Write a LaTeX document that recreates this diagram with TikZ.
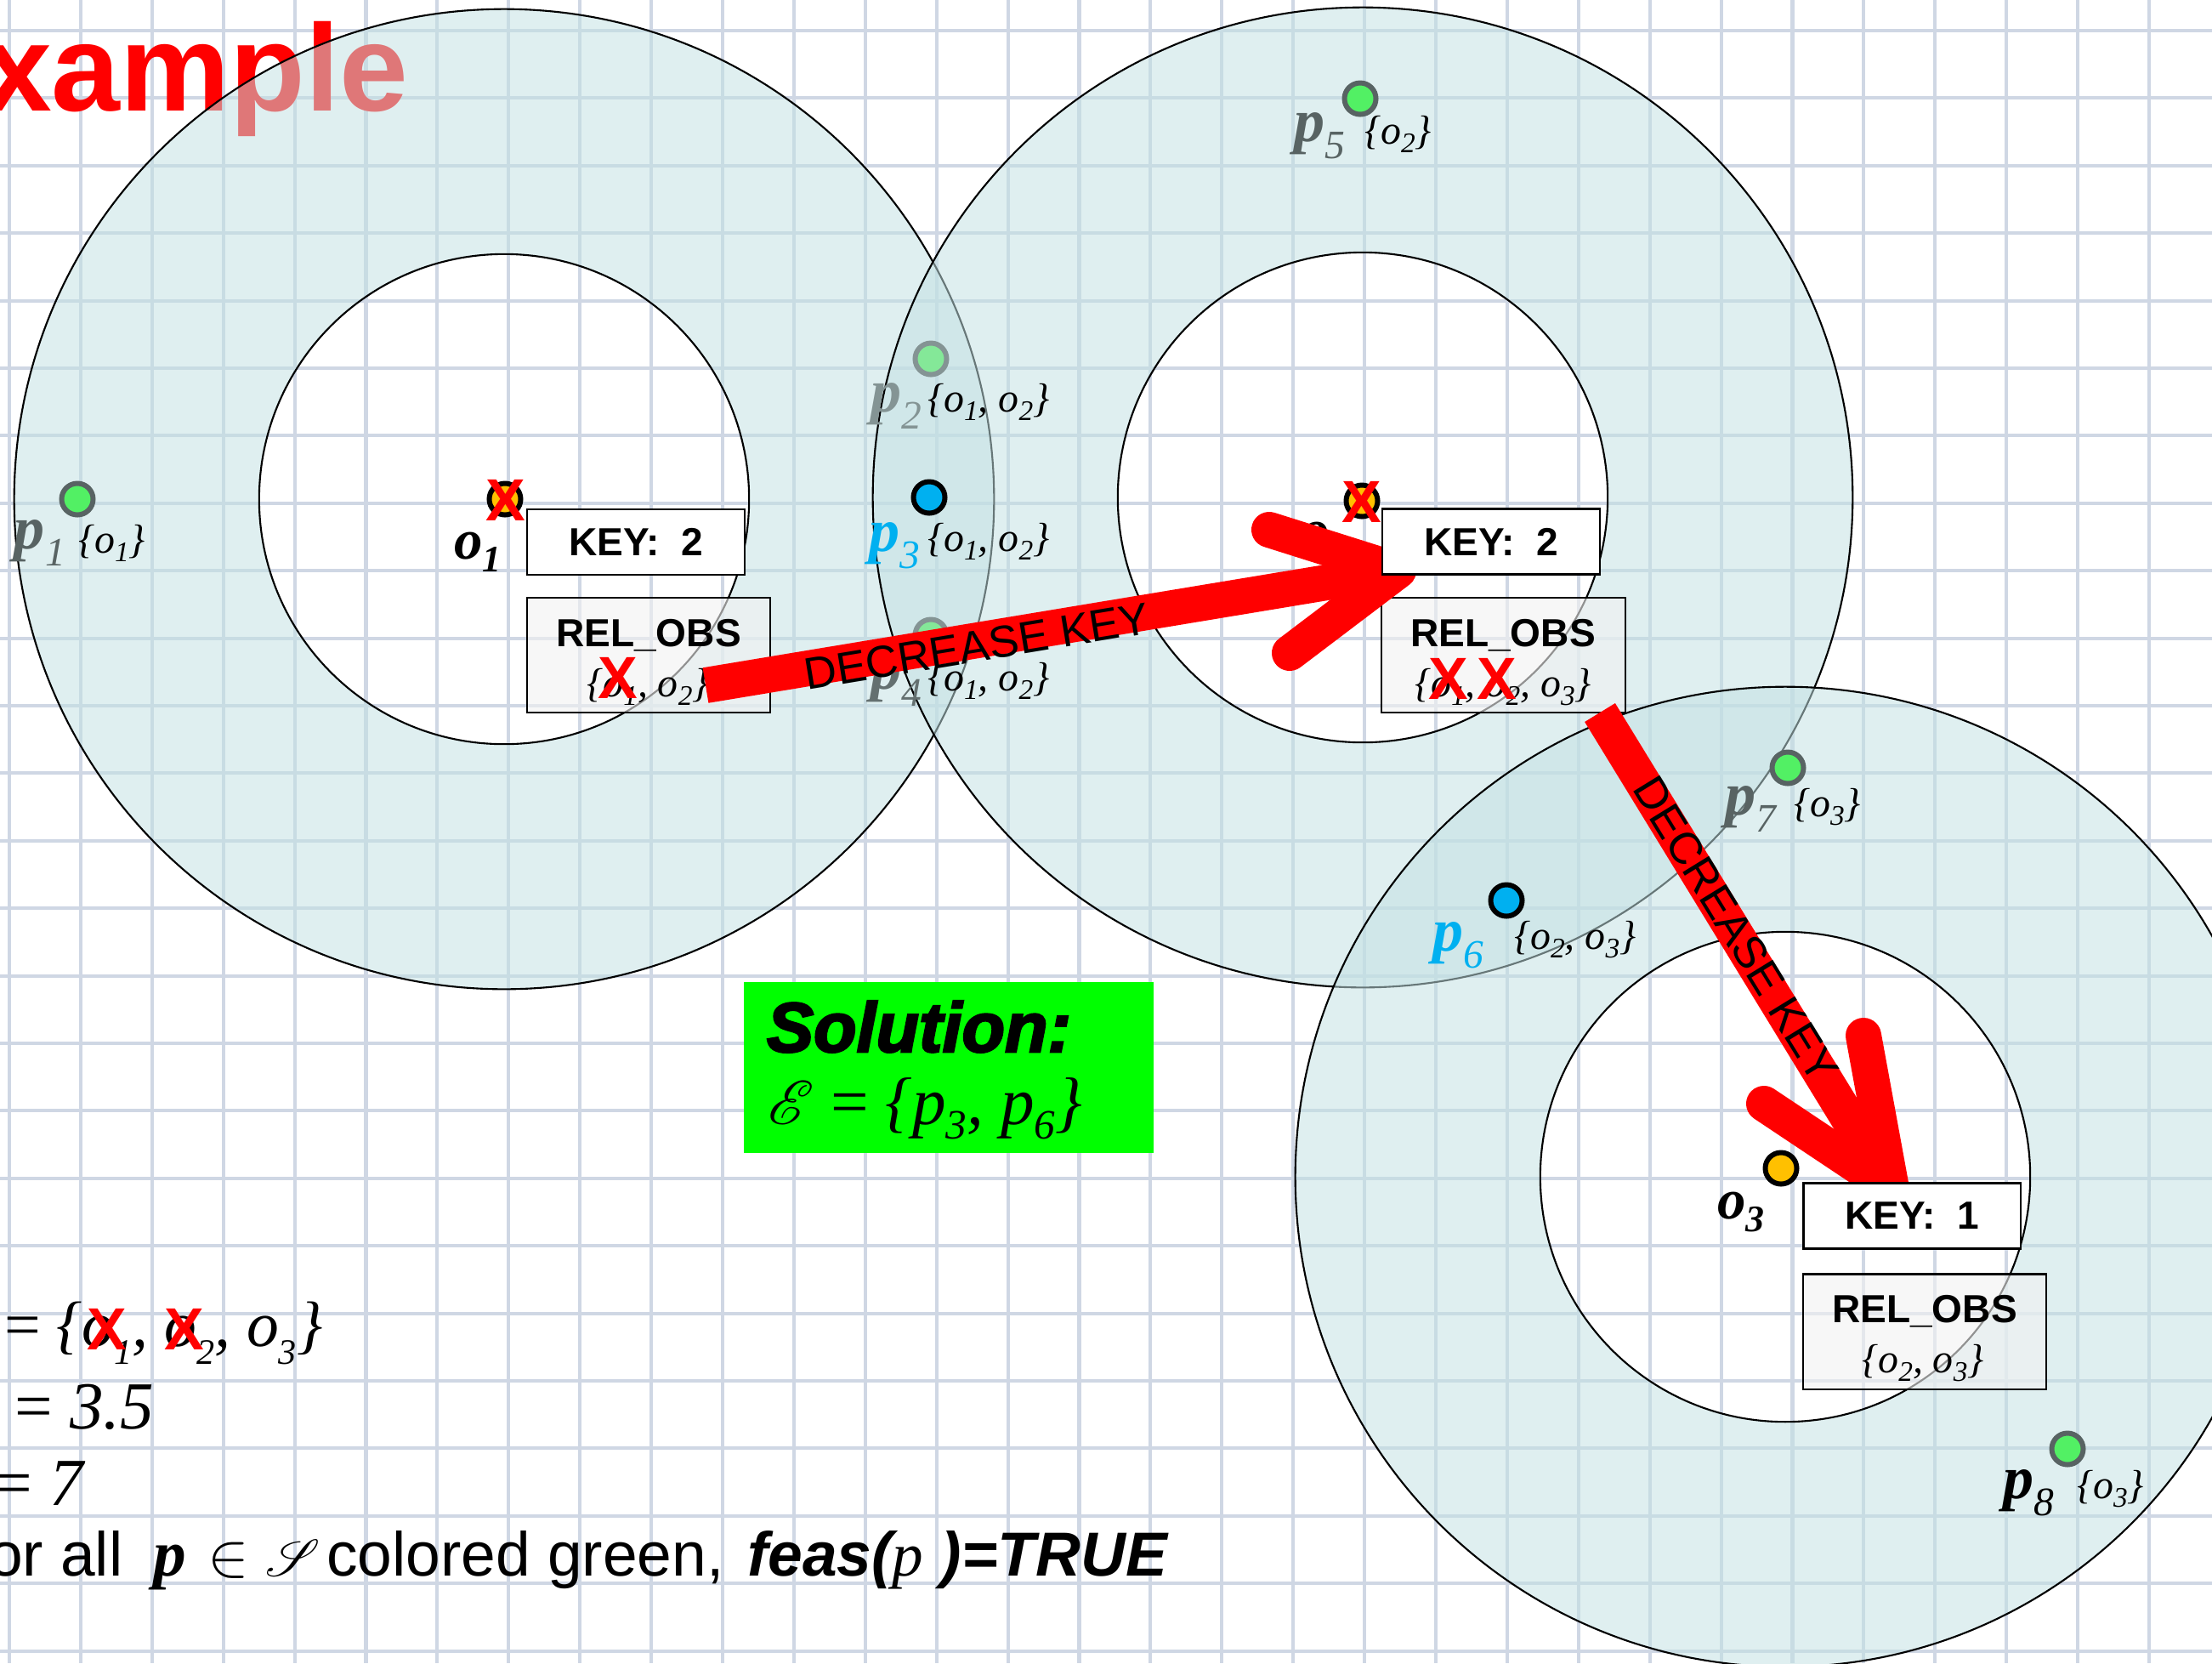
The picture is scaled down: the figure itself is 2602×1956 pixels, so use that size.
\documentclass[tikz,border=0pt]{standalone}
\usepackage{fontspec}
\usepackage{mathrsfs}
\usetikzlibrary{calc}
\setmainfont{Liberation Serif}
\newfontfamily\arial{Liberation Sans}
\newfontfamily\tms{Liberation Serif}
\newfontfamily\solfont{Liberation Sans}[FakeBold=3]
\newcommand\Fs[1]{\fontsize{#1}{#1}\selectfont}
\newcommand\plab[1]{{\bfseries p}\raisebox{-5.8pt}{\Fs{13.5pt}#1}}
\newcommand\ssub[1]{\raisebox{-3pt}{\Fs{9.5pt}#1}}
\newcommand\osub[1]{\raisebox{-4.5pt}{\Fs{12.5pt}#1}}
\newcommand\lsub[1]{\raisebox{-6pt}{\Fs{12pt}#1}}
\newcommand\esub[1]{\raisebox{-5pt}{\Fs{14pt}#1}}
\newcommand\setfnt{\tms\itshape\Fs{13.6pt}}
\definecolor{gridc}{RGB}{207,215,228}
\definecolor{ann}{RGB}{195,225,227}
\definecolor{pgreen}{RGB}{82,240,100}
\definecolor{pgreenf}{RGB}{132,232,152}
\definecolor{pgrey}{RGB}{88,99,99}
\definecolor{pgreyf}{RGB}{132,148,148}
\definecolor{pgreym}{RGB}{100,112,112}
\definecolor{pblue}{RGB}{0,176,240}
\definecolor{oorange}{RGB}{255,192,0}
\definecolor{solgreen}{RGB}{0,255,0}
\tikzset{
  lab/.style={inner sep=0pt, outer sep=0pt, anchor=base west},
  dotbase/.style={circle, line width=1.7pt, minimum size=0.37cm, inner sep=0pt},
  dotg/.style={dotbase, draw=pgrey, fill=pgreen},
  dotf/.style={dotbase, draw=pgreyf, fill=pgreenf},
  dotb/.style={dotbase, draw=black, fill=pblue},
  doto/.style={dotbase, draw=black, fill=oorange},
  keybox/.style={draw=black, fill=white, line width=0.6pt, minimum width=2.55cm, minimum height=0.77cm, inner sep=0pt, font=\arial\bfseries\Fs{13.1pt}},
  relbox/.style={draw=black, fill=black!5, fill opacity=0.6, line width=0.6pt, minimum width=2.86cm, minimum height=1.35cm, inner sep=0pt},
  reltxt/.style={anchor=base, inner sep=0pt, font=\arial\bfseries\Fs{13.1pt}},
  relset/.style={anchor=base, inner sep=0pt, font=\setfnt},
  xmark/.style={text=red, inner sep=0pt, font=\arial\bfseries\Fs{19.9pt}},
  bigarrow/.style={draw=red, line width=0.42cm},
  arrtxt/.style={inner sep=0pt, font=\arial\Fs{15pt}},
  annulus/.style={fill=ann, fill opacity=0.53, even odd rule, draw=black, line width=0.6pt},
  gridline/.style={draw=gridc, line width=1.15pt},
  plabf/.style={lab, font=\tms\itshape\Fs{20.5pt}},
  olabf/.style={lab, font=\tms\bfseries\itshape\Fs{19pt}},
  setlab/.style={lab, font=\setfnt},
}
\begin{document}
\begin{tikzpicture}[x=0.01cm, y=-0.01cm]
\useasboundingbox (0,0) rectangle (2602,1956);
\clip (0,0) rectangle (2602,1956);
\fill[white] (0,0) rectangle (2602,1956);
% grid
\foreach \i in {0,...,30} \draw[gridline] ({11+83.9*\i},0) -- ({11+83.9*\i},1956);
\foreach \j in {0,...,24} \draw[gridline] (0,{36+79.4*\j}) -- (2602,{36+79.4*\j});
% title
\node[lab, text=red, font=\arial\bfseries\Fs{41.3pt}] (title) at (-20,130) {xample};
% annuli
\coordinate (c1) at (593,587);
\coordinate (c2) at (1603,585);
\coordinate (c3) at (2100,1384);
\path[annulus] (c1) circle[radius=5.76cm] (c1) circle[radius=2.88cm];
\path[annulus] (c2) circle[radius=5.76cm] (c2) circle[radius=2.88cm];
\path[annulus] (c3) circle[radius=5.76cm] (c3) circle[radius=2.88cm];
% points
\node[dotg] (p1) at (91,587) {};
\node[dotf] (p2) at (1095,422) {};
\node[dotb] (p3) at (1093,585) {};
\node[dotf] (p4) at (1095,747) {};
\node[dotg] (p5) at (1600,116) {};
\node[dotb] (p6) at (1772,1059) {};
\node[dotg] (p7) at (2103,903) {};
\node[dotg] (p8) at (2432,1704) {};
\node[doto] (o1) at (594,587) {};
\node[doto] (o2) at (1602,589) {};
\node[doto] (o3) at (2095,1374) {};
% point labels
\node[plabf, text=pgrey] (p1l) at (17,645) {\plab{1}};
\node[setlab] (p1s) at (92,650) {\{o\ssub{1}\}};
\node[plabf, text=pgreyf] (p2l) at (1024,484) {\plab{2}};
\node[setlab] (p2s) at (1091,484) {\{o\ssub{1}, o\ssub{2}\}};
\node[plabf, text=pblue] (p3l) at (1022,648) {\plab{3}};
\node[setlab] (p3s) at (1091,648) {\{o\ssub{1}, o\ssub{2}\}};
\node[plabf, text=pgreym] (p4l) at (1024,810) {\plab{4}};
\node[setlab] (p4s) at (1091,812) {\{o\ssub{1}, o\ssub{2}\}};
\node[plabf, text=pgrey] (p5l) at (1522,166) {\plab{5}};
\node[setlab] (p5s) at (1605,169) {\{o\ssub{2}\}};
\node[plabf, text=pblue] (p6l) at (1685,1118) {\plab{6}};
\node[setlab] (p6s) at (1781,1116) {\{o\ssub{2}, o\ssub{3}\}};
\node[plabf, text=pgrey] (p7l) at (2029,958) {\plab{7}};
\node[setlab] (p7s) at (2110,960) {\{o\ssub{3}\}};
\node[plabf, text=black] (p8l) at (2356,1762) {\plab{8}};
\node[setlab] (p8s) at (2443,1762) {\{o\ssub{3}\}};
\node[olabf] (o1l) at (534,657) {o\osub{1}};
\node[olabf] (o2l) at (1530,645) {o\osub{2}};
\node[olabf] (o3l) at (2020,1433) {o\osub{3}};
% REL_OBS boxes
\node[relbox] (rel1) at (763,770.5) {};
\node[reltxt] at (763,760) {REL\_OBS};
\node[relset] at (762,819) {\{o\ssub{1}, o\ssub{2}\}};
\node[relbox] (rel2) at (1768.5,770.5) {};
\node[reltxt] at (1768,760) {REL\_OBS};
\node[relset] at (1768,819) {\{o\ssub{1}, o\ssub{2}, o\ssub{3}\}};
\node[relbox] (rel3) at (2264,1566) {};
\node[reltxt] at (2264,1555) {REL\_OBS};
\node[relset] at (2262,1614) {\{o\ssub{2}, o\ssub{3}\}};
% arrows
\coordinate (a1s) at (830,806);
\coordinate (a1t) at (1645,671);
\coordinate (a1u) at (1493,623);
\coordinate (a1d) at (1517,768);
\draw[bigarrow] (a1s) -- (a1t);
\draw[bigarrow, line cap=round, line join=round] (a1u) -- (a1t) -- (a1d);
\node[arrtxt, rotate=9.4] at (1149,760) {DECREASE KEY};
\coordinate (a2s) at (1882,838);
\coordinate (a2t) at (2225,1398);
\coordinate (a2u) at (2192,1218);
\coordinate (a2d) at (2075,1298);
\draw[bigarrow] (a2s) -- (a2t);
\draw[bigarrow, line cap=round, line join=round] (a2u) -- (a2t) -- (a2d);
\node[arrtxt, rotate=-58.4] at (2042,1093) {DECREASE KEY};
% KEY boxes
\node[keybox] (key1) at (748,637.5) {KEY:\ \ 2};
\node[keybox] (key2) at (1754,637) {KEY:\ \ 2};
\node[keybox] (key3) at (2249,1430) {KEY:\ \ 1};
% red crosses
\node[xmark] (x1) at (595,588) {X};
\node[xmark] (x2) at (1602,590) {X};
\node[xmark] (x3) at (727,797) {X};
\node[xmark] (x4) at (1704,798) {X};
\node[xmark] (x5) at (1761,798) {X};
% solution box
\node[fill=solgreen, minimum width=4.82cm, minimum height=2.01cm, inner sep=0pt] (sol) at (1116,1255.5) {};
\node[lab, font=\solfont\bfseries\itshape\Fs{23.5pt}] (solt) at (902,1237) {Solution:};
\node[lab, font=\tms\itshape\Fs{22.5pt}] (sole) at (903,1322) {$\mathscr{E}$ {\upshape=} \{p\esub{3}, p\esub{6}\}};
% bottom text
\node[lab, font=\tms\itshape\Fs{21.5pt}] (l1) at (5,1583) {{\upshape=} \{o\lsub{1}, o\lsub{2}, o\lsub{3}\}};
\node[xmark] (x6) at (126,1563) {X};
\node[xmark] (x7) at (217,1563) {X};
\node[lab, font=\tms\itshape\Fs{22.5pt}] (l2) at (18,1680) {{\upshape=} 3.5};
\node[lab, font=\tms\itshape\Fs{22.5pt}] (l3) at (-6,1770) {{\upshape=} 7};
\node[lab, font=\arial\Fs{20.8pt}] (l4a) at (-14,1853) {or all};
\node[lab, font=\tms\bfseries\itshape\Fs{22pt}] (l4b) at (180,1853) {p};
\node[lab, font=\Fs{20pt}] (l4c) at (244,1853) {$\in$};
\node[lab, font=\Fs{18pt}] (l4d) at (312,1853) {$\mathscr{S}$};
\node[lab, font=\arial\Fs{20.8pt}] (l4e) at (384,1853) {colored green,};
\node[lab, font=\arial\bfseries\itshape\Fs{20.8pt}] (l4f) at (879,1853) {feas({\tms\mdseries p}\ )=TRUE};
\end{tikzpicture}
\end{document}
